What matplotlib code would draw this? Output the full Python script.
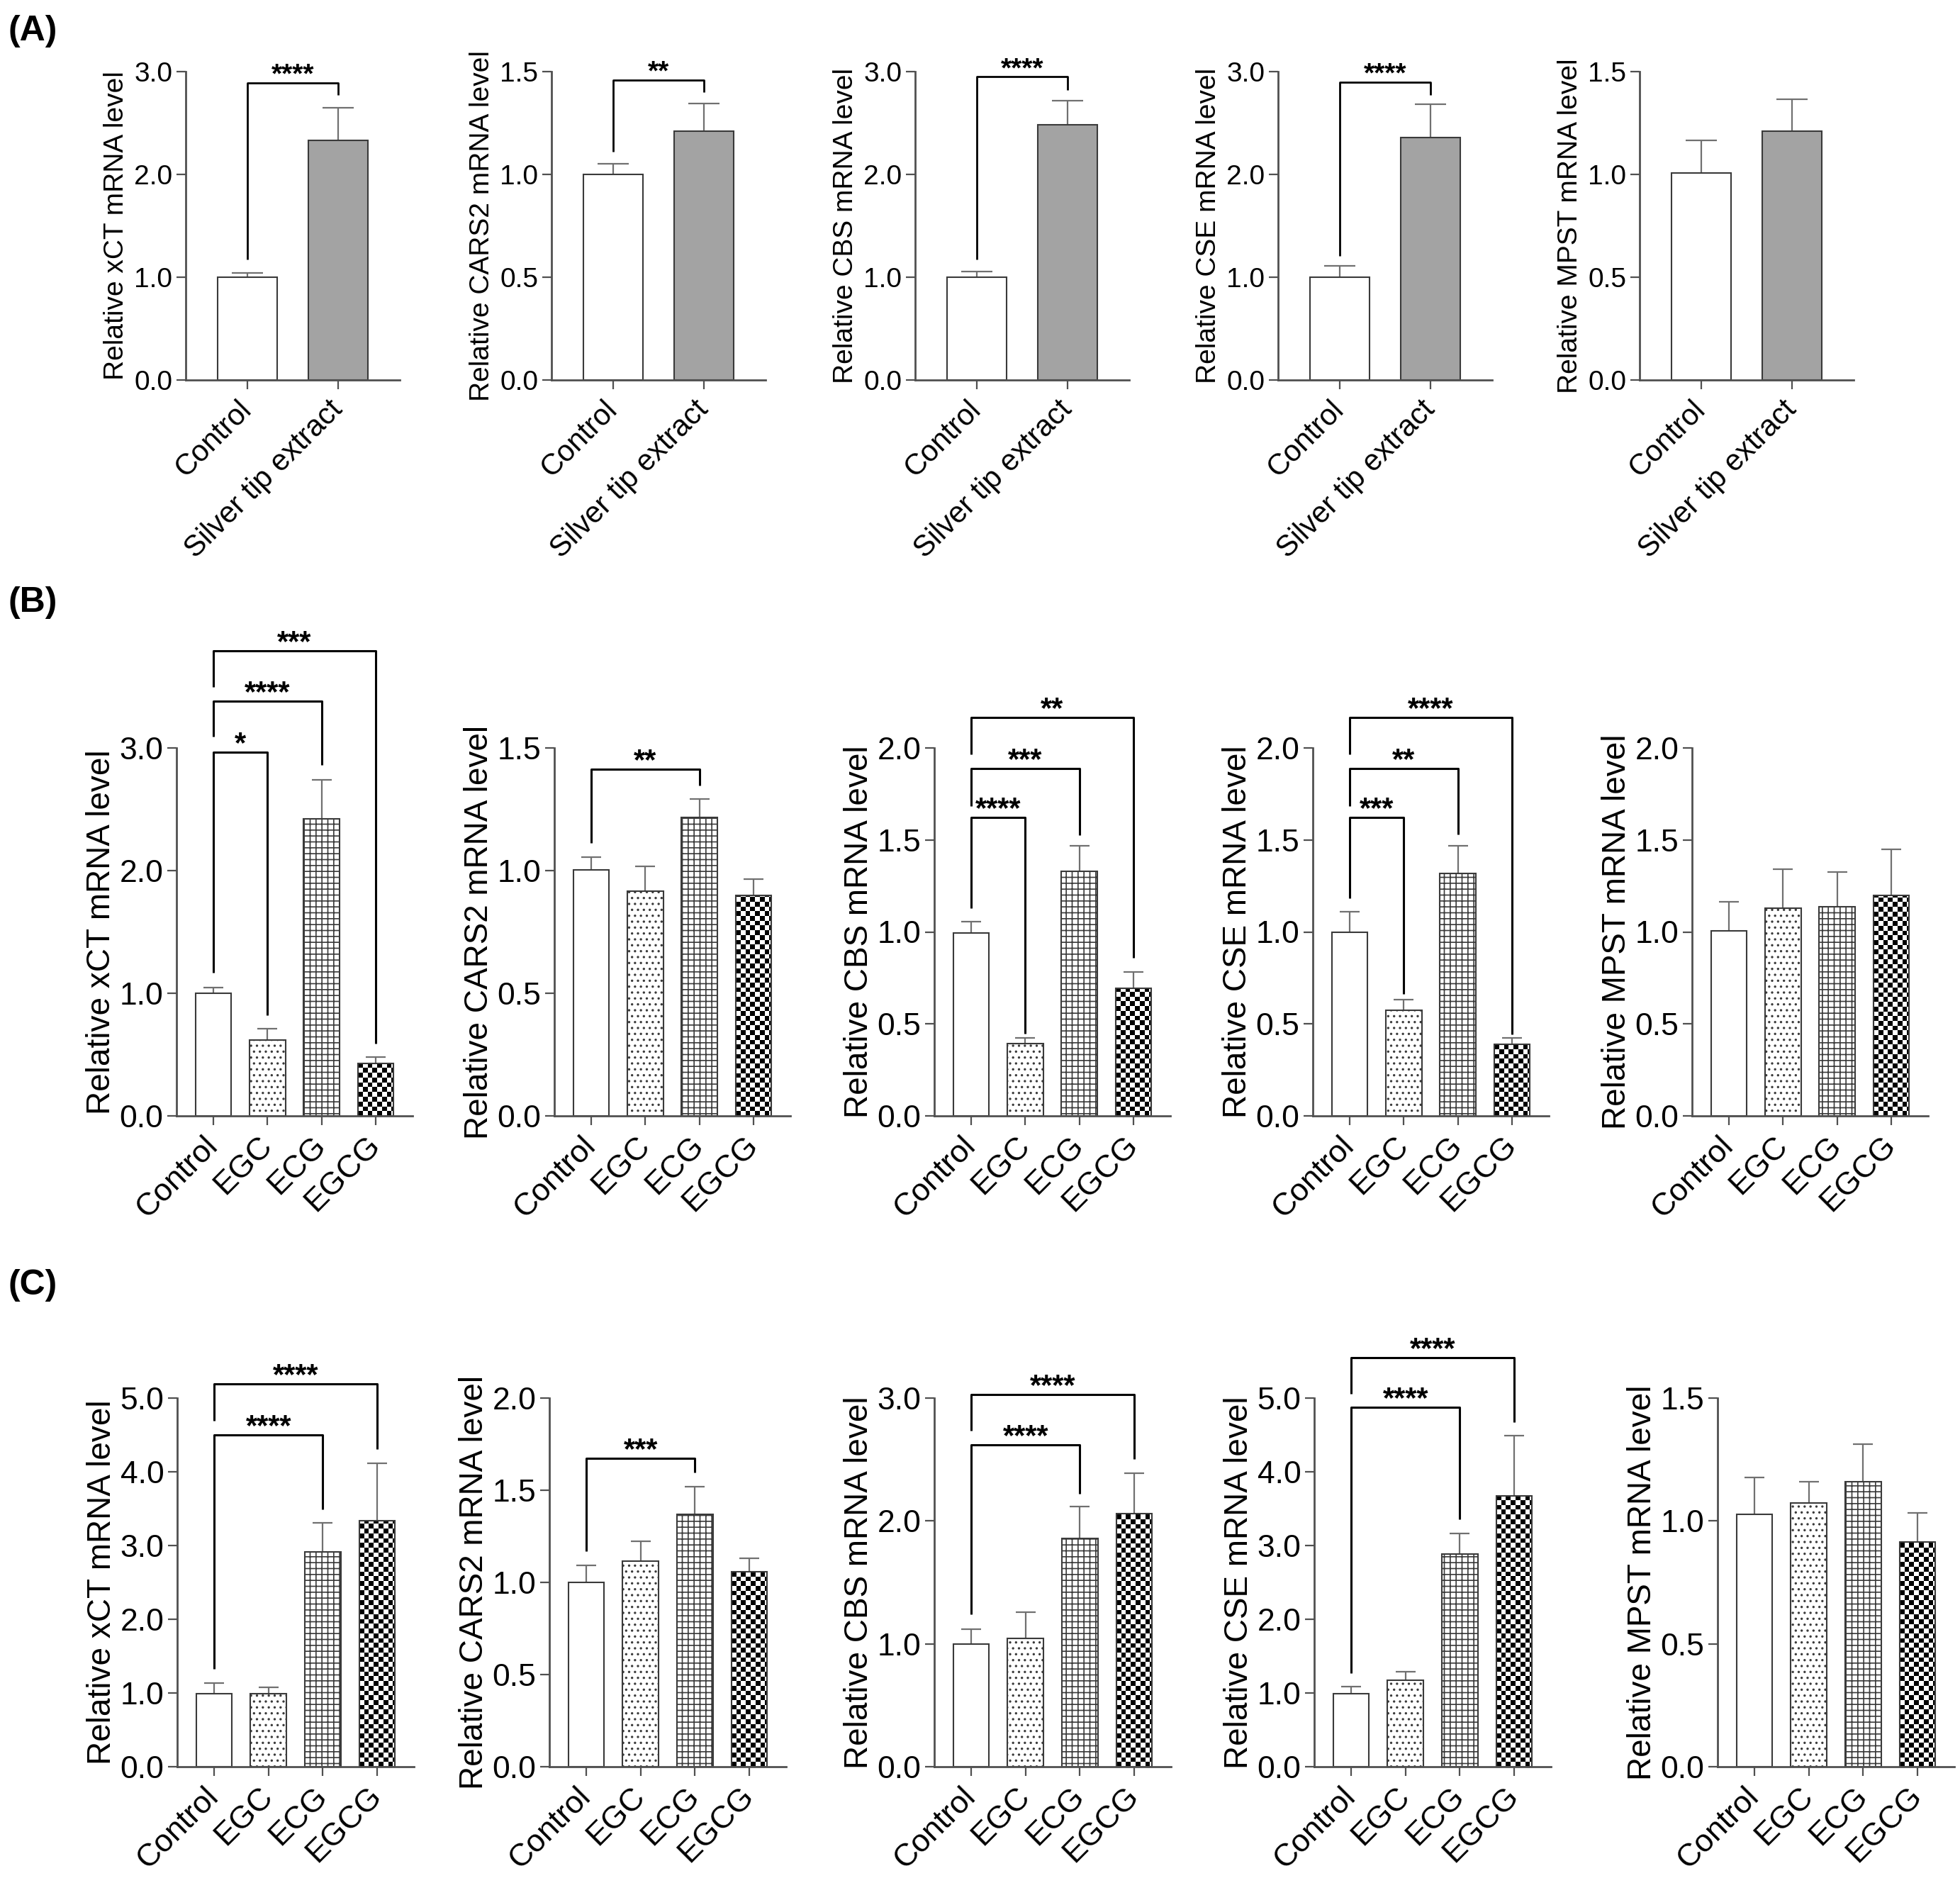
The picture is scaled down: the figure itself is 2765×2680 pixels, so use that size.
import numpy as np
import matplotlib
matplotlib.use("Agg")
import matplotlib.pyplot as plt
from matplotlib.ticker import FormatStrFormatter

plt.rcParams["font.family"] = ["Liberation Sans", "DejaVu Sans"]
plt.rcParams["hatch.linewidth"] = 0.6

FIG_W, FIG_H, DPI = 2765, 2680, 200

GENES = ["xCT", "CARS2", "CBS", "CSE", "MPST"]
GROUPS_A = ["Control", "Silver tip extract"]
GROUPS_BC = ["Control", "EGC", "ECG", "EGCG"]

# (A) silver tip extract
A_MEAN = [[1.00, 2.33], [1.00, 1.21], [1.00, 2.48], [1.00, 2.36], [1.007, 1.21]]
A_ERR = [[0.04, 0.32], [0.052, 0.135], [0.055, 0.24], [0.11, 0.32], [0.159, 0.155]]
A_YMAX = [3.0, 1.5, 3.0, 3.0, 1.5]
A_STEP = [1.0, 0.5, 1.0, 1.0, 0.5]
# bracket: (left group, right group, label, top, left leg end, right leg end)
A_SIG = [
    [(0, 1, "****", 2.89, 1.17, 2.77)],
    [(0, 1, "**", 1.46, 1.11, 1.40)],
    [(0, 1, "****", 2.95, 1.17, 2.82)],
    [(0, 1, "****", 2.90, 1.21, 2.77)],
    [],
]

# (B)
B_MEAN = [[1.00, 0.62, 2.42, 0.43],
          [1.003, 0.915, 1.217, 0.90],
          [0.996, 0.392, 1.329, 0.694],
          [1.00, 0.573, 1.319, 0.388],
          [1.006, 1.131, 1.138, 1.198]]
B_ERR = [[0.047, 0.09, 0.32, 0.047],
         [0.053, 0.103, 0.074, 0.065],
         [0.058, 0.031, 0.14, 0.089],
         [0.11, 0.058, 0.15, 0.036],
         [0.157, 0.209, 0.188, 0.252]]
B_YMAX = [3.0, 1.5, 2.0, 2.0, 2.0]
B_STEP = [1.0, 0.5, 0.5, 0.5, 0.5]
B_SIG = [
    [(0, 1, "*", 2.967, 1.17, 0.82), (0, 2, "****", 3.38, 3.09, 2.86),
     (0, 3, "***", 3.79, 3.50, 0.59)],
    [(0, 2, "**", 1.412, 1.114, 1.346)],
    [(0, 1, "****", 1.621, 1.131, 0.448), (0, 2, "***", 1.888, 1.683, 1.527),
     (0, 3, "**", 2.167, 1.965, 0.86)],
    [(0, 1, "***", 1.621, 1.183, 0.662), (0, 2, "**", 1.888, 1.683, 1.531),
     (0, 3, "****", 2.167, 1.965, 0.444)],
    [],
]

# (C)
C_MEAN = [[0.995, 0.995, 2.917, 3.337],
          [0.999, 1.116, 1.37, 1.056],
          [1.00, 1.044, 1.856, 2.062],
          [0.995, 1.177, 2.884, 3.674],
          [1.028, 1.074, 1.16, 0.915]]
C_ERR = [[0.135, 0.082, 0.387, 0.779],
         [0.095, 0.106, 0.15, 0.073],
         [0.12, 0.216, 0.262, 0.325],
         [0.093, 0.11, 0.282, 0.818],
         [0.149, 0.086, 0.153, 0.118]]
C_YMAX = [5.0, 2.0, 3.0, 5.0, 1.5]
C_STEP = [1.0, 0.5, 1.0, 1.0, 0.5]
C_SIG = [
    [(0, 2, "****", 4.503, 1.326, 3.49), (0, 3, "****", 5.193, 4.696, 4.31)],
    [(0, 2, "***", 1.673, 1.17, 1.596)],
    [(0, 2, "****", 2.619, 1.243, 2.221), (0, 3, "****", 3.026, 2.735, 2.503)],
    [(0, 2, "****", 4.878, 1.27, 3.36), (0, 3, "****", 5.552, 5.055, 4.669)],
    [],
]

AXIS_COLOR = "#505050"
EDGE_COLOR = "#3a3a3a"
ERR_COLOR = "#707070"
SILVER = "#a3a3a3"


def add_checker(ax, rect, cell_px, w_px, h_px):
    xl, yl = ax.get_xlim(), ax.get_ylim()
    dx = cell_px * (xl[1] - xl[0]) / w_px
    dy = cell_px * (yl[1] - yl[0]) / h_px
    x0 = rect.get_x()
    nx = int(np.ceil(rect.get_width() / dx))
    ny = int(np.ceil(rect.get_height() / dy))
    board = np.indices((ny, nx)).sum(axis=0) % 2
    im = ax.imshow(board, cmap="gray", vmin=0, vmax=1, origin="lower",
                   extent=(x0, x0 + nx * dx, 0, ny * dy), aspect="auto",
                   interpolation="nearest", zorder=1.9)
    im.set_clip_path(rect)
    ax.set_xlim(xl)
    ax.set_ylim(yl)


def draw_panel(fig, box, groups, mean, err, ymax, step, sig, gene, big):
    left, top, width, bottom = box
    w_px, h_px = width, bottom - top
    ax = fig.add_axes([left / FIG_W, 1 - bottom / FIG_H, w_px / FIG_W, h_px / FIG_H])
    n = len(groups)
    x = np.arange(n)
    xlim = (-0.68, n - 1 + 0.68)
    ax.set_xlim(xlim)
    ax.set_ylim(0, ymax)

    if n == 2:
        faces = ["white", SILVER]
        hatches = [None, None]
    else:
        faces = ["white", "white", "white", "none"]
        hatches = [None, "....", "++++", None]

    bars = ax.bar(x, mean, width=0.66, color=faces, edgecolor=EDGE_COLOR,
                  linewidth=0.75, zorder=2)
    for b, h in zip(bars, hatches):
        if h:
            b.set_hatch(h)

    eb = ax.errorbar(x, mean, yerr=[np.zeros(n), err], fmt="none",
                     ecolor=ERR_COLOR, elinewidth=0.8, capthick=0.8,
                     capsize=8 if n == 2 else 5, zorder=1.8)
    eb[1][0].set_visible(False)

    if n == 4:
        add_checker(ax, bars[3], 6.7, w_px, h_px)

    fs_tick = 16 if big else 14
    fs_x = 16 if big else 15
    fs_lab = 16.5 if big else 14
    fs_star = 15 if big else 14
    lw_br = 1.1 if big else 1.0

    for i, j, lab, ytop, yl, yr in sig:
        ax.plot([x[i], x[i], x[j], x[j]], [yl, ytop, ytop, yr], color="black",
                lw=lw_br, clip_on=False, solid_capstyle="butt", zorder=3)
        ax.annotate(lab, xy=((x[i] + x[j]) / 2, ytop), xytext=(0, 0),
                    textcoords="offset points", ha="center", va="baseline",
                    fontsize=fs_star, fontweight="bold", annotation_clip=False)

    for s in ["top", "right"]:
        ax.spines[s].set_visible(False)
    for s in ["left", "bottom"]:
        ax.spines[s].set_color(AXIS_COLOR)
        ax.spines[s].set_linewidth(1.0)

    ax.set_yticks(np.arange(0, ymax + step / 2, step))
    ax.yaxis.set_major_formatter(FormatStrFormatter("%.1f"))
    ax.tick_params(direction="out", length=4.7, width=0.8, color=AXIS_COLOR,
                   labelsize=fs_tick, pad=2)
    ax.set_xticks(x)
    ax.set_xticklabels(groups, rotation=45, ha="right", va="center",
                       rotation_mode="anchor", fontsize=fs_x)
    ax.tick_params(axis="x", pad=8)

    ax.set_ylabel(f"Relative {gene} mRNA level", fontsize=fs_lab)
    ax.yaxis.set_label_coords((-84 if big else -80) / w_px, 0.5)
    return ax


def main():
    fig = plt.figure(figsize=(FIG_W / DPI, FIG_H / DPI), dpi=DPI)

    lefts_a = [262, 778, 1291, 1803, 2313]
    lefts_b = [249, 782, 1318, 1852, 2387]
    lefts_c = [250, 775, 1318, 1854, 2423]

    for k, gene in enumerate(GENES):
        draw_panel(fig, (lefts_a[k], 101, 302, 536), GROUPS_A, A_MEAN[k], A_ERR[k],
                   A_YMAX[k], A_STEP[k], A_SIG[k], gene, False)
        draw_panel(fig, (lefts_b[k], 1055, 333, 1574), GROUPS_BC, B_MEAN[k], B_ERR[k],
                   B_YMAX[k], B_STEP[k], B_SIG[k], gene, True)
        draw_panel(fig, (lefts_c[k], 1972, 334, 2492), GROUPS_BC, C_MEAN[k], C_ERR[k],
                   C_YMAX[k], C_STEP[k], C_SIG[k], gene, True)

    for lab, yc in [("(A)", 44), ("(B)", 850), ("(C)", 1813)]:
        fig.text(12 / FIG_W, 1 - yc / FIG_H, lab, fontsize=18, fontweight="bold",
                 ha="left", va="center")

    fig.savefig("out.png", dpi=DPI, facecolor="white")


if __name__ == "__main__":
    main()
